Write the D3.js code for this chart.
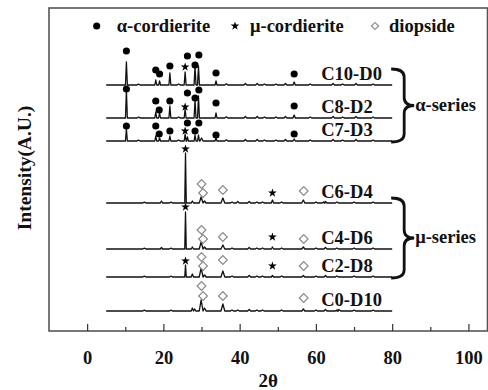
<!DOCTYPE html>
<html>
<head>
<meta charset="utf-8">
<script src="https://cdn.jsdelivr.net/npm/d3@7"></script>
<style>
  body { margin: 0; background: #fff; }
  text { font-family: "Liberation Serif", "Times New Roman", serif; font-weight: bold; fill: #111; }
</style>
</head>
<body>
<svg id="chart" width="488" height="390"></svg>
<script>
// sample names, top to bottom, with the vertical offset of each baseline (a.u.)
const samples = ['C10-D0', 'C8-D2', 'C7-D3', 'C6-D4', 'C4-D6', 'C2-D8', 'C0-D10'];
const offsets = [246, 213, 190, 128, 82, 54, 20];

// peaks: [2theta, height, half width]
const peaksC10D0 = [[10.3,23,.25],[18.0,5,.25],[19.0,4,.25],[21.7,12,.25],[25.7,13,.25],[28.3,19,.25],[29.2,19,.25],[33.8,4,.25],[54.3,3,.3]];
const peaksC8D2  = [[10.3,28,.25],[18.0,6,.25],[19.0,5,.25],[21.7,12,.25],[25.7,9,.25],[28.3,18,.25],[29.2,22,.25],[33.8,5,.25],[54.3,3,.3]];
const peaksC7D3  = [[10.3,12,.25],[18.0,5,.25],[19.0,3,.25],[21.7,5,.25],[25.7,7,.25],[26.3,4,.25],[28.3,6,.25],[29.2,6,.25],[30.0,3,.4],[33.8,3,.25],[54.3,2,.3]];
const peaksC6D4  = [[19.5,2,.3],[25.8,50,.2],[27.6,2,.3],[29.9,6,.5],[30.8,2,.4],[35.6,5,.5],[39.5,1.5,.4],[48.6,3,.3],[56.7,3,.4],[62,1,.4]];
const peaksC4D6  = [[19.5,1.5,.3],[25.8,37,.2],[27.6,2,.3],[29.9,7,.5],[30.8,2,.4],[35.6,4,.5],[48.6,2,.3],[56.7,2,.4]];
const peaksC2D8  = [[25.8,12,.2],[27.6,3,.3],[29.9,9,.5],[30.8,2,.4],[35.6,6,.5],[48.6,1.5,.3],[56.7,1.5,.4]];
const peaksC0D10 = [[27.6,3,.3],[28.2,2,.3],[29.9,11,.5],[30.8,3,.4],[35.6,7,.5],[39.5,1,.4],[56.7,2,.4],[66,1.5,.5]];

// small background bumps
const bumpsAlpha = [[13.5,.8,.4],[24,1,.4],[36.5,1.2,.4],[41.5,1.5,.4],[44.6,1.5,.4],[46.5,1,.4],[49.5,1,.4],[52,1.5,.4],[58.5,1,.4],[64.5,1.5,.4],[67,1,.4],[70.5,1.5,.4],[75,1,.4]];
const bumpsMu = [[15,.8,.4],[22,.8,.4],[38,1,.4],[42.5,1.5,.4],[44.5,1,.4],[46,1,.4],[51,1,.4],[60,1,.4],[62.5,1.5,.4],[65.5,1,.4],[70,1,.4],[75,1,.4]];

// phase markers: [2theta, height above baseline, phase]
const marksC10D0 = [[10.3,34,'a'],[18.0,15,'a'],[19.0,11,'a'],[21.7,19,'a'],[25.7,18,'m'],[26.3,29,'a'],[28.3,20,'a'],[29.3,30,'a'],[33.8,12,'a'],[54.3,11,'a']];
const marksC8D2  = [[10.3,29,'a'],[18.0,17,'a'],[18.9,8,'a'],[21.7,17,'a'],[25.7,11,'m'],[26.3,25,'a'],[28.3,20,'a'],[29.3,28,'a'],[33.8,15,'a'],[54.3,12,'a']];
const marksC7D3  = [[10.3,15,'a'],[18.0,15,'a'],[18.9,7,'a'],[21.7,10,'a'],[25.7,10,'m'],[26.3,18,'a'],[28.3,10,'a'],[29.3,18,'a'],[33.8,6,'a'],[54.3,7,'a']];
const marksC6D4  = [[25.8,54,'m'],[30.0,19,'d'],[30.4,10,'d'],[35.6,13,'d'],[48.6,10,'m'],[56.8,12,'d']];
const marksC4D6  = [[25.8,42,'m'],[30.0,19,'d'],[30.4,10,'d'],[35.6,12,'d'],[48.6,12,'m'],[56.8,10,'d']];
const marksC2D8  = [[25.8,16,'m'],[30.0,20,'d'],[30.4,11,'d'],[35.6,17,'d'],[48.6,11,'m'],[56.8,11,'d']];
const marksC0D10 = [[30.0,25,'d'],[30.4,15,'d'],[35.6,15,'d'],[56.8,13,'d']];

const xTicks = [0, 20, 40, 60, 80, 100];
const xMinor = [10, 30, 50, 70, 90];
const legendItems = [['a', 'α-cordierite'], ['m', 'μ-cordierite'], ['d', 'diopside']];

const peakSets = [peaksC10D0, peaksC8D2, peaksC7D3, peaksC6D4, peaksC4D6, peaksC2D8, peaksC0D10];
const markSets = [marksC10D0, marksC8D2, marksC7D3, marksC6D4, marksC4D6, marksC2D8, marksC0D10];

const svg = d3.select('#chart');
const frame = { left: 49, top: 8, right: 487.5, bottom: 331 };

const x = d3.scaleLinear().domain([-10, 105]).range([frame.left, frame.right]);
const y = d3.scaleLinear().domain([0, 323]).range([frame.bottom, frame.top]);

// turn peak list into a polyline (baseline - apex - baseline)
function tracePoints(peaks) {
  const pts = [[5, 0]];
  peaks.slice().sort((a, b) => a[0] - b[0]).forEach(p => {
    pts.push([p[0] - p[2], 0], [p[0], p[1]], [p[0] + p[2], 0]);
  });
  pts.push([80, 0]);
  return pts;
}

const symbolFor = {
  a: d3.symbol().type(d3.symbolCircle).size(40),
  m: d3.symbol().type(d3.symbolStar).size(24),
  d: d3.symbol().type(d3.symbolSquare).size(38)
};

function drawMark(g, kind, px, py, scale) {
  const s = scale || 1;
  const p = g.append('path')
    .attr('d', symbolFor[kind]())
    .attr('transform', 'translate(' + px + ',' + py + ')' + (kind === 'd' ? ' rotate(45)' : '') + ' scale(' + s + ')');
  if (kind === 'd') {
    p.attr('fill', '#fff').attr('stroke', '#8a8a8a').attr('stroke-width', 1.2 / s);
  } else {
    p.attr('fill', '#000');
  }
}

/* traces */
const line = d3.line().x(d => x(d[0])).y(d => y(d[1]));
const plot = svg.append('g');

samples.forEach((name, i) => {
  const off = offsets[i];
  const bumps = i < 3 ? bumpsAlpha : bumpsMu;
  const pts = tracePoints(peakSets[i].concat(bumps)).map(p => [p[0], p[1] + off]);
  plot.append('path')
    .attr('d', line(pts))
    .attr('fill', 'none')
    .attr('stroke', '#111')
    .attr('stroke-width', 1.3)
    .attr('stroke-linejoin', 'round');

  markSets[i].forEach(m => drawMark(plot, m[2], x(m[0]), y(off + m[1])));

  plot.append('text')
    .attr('x', x(61.4))
    .attr('y', y(off + 5))
    .attr('font-size', 18.5)
    .text(name);
});

/* braces */
function bracePath(x0, xb, xt, y0, y1) {
  const ym = (y0 + y1) / 2;
  const r = 8;
  return 'M' + x0 + ',' + y0 +
    ' Q' + xb + ',' + y0 + ' ' + xb + ',' + (y0 + r) +
    ' L' + xb + ',' + (ym - r) +
    ' Q' + xb + ',' + ym + ' ' + xt + ',' + ym +
    ' Q' + xb + ',' + ym + ' ' + xb + ',' + (ym + r) +
    ' L' + xb + ',' + (y1 - r) +
    ' Q' + xb + ',' + y1 + ' ' + x0 + ',' + y1;
}
const braces = [
  { top: offsets[0] + 16, bottom: offsets[2] - 1, label: 'α-series' },
  { top: offsets[3] + 5, bottom: offsets[5] - 1, label: 'μ-series' }
];
braces.forEach(b => {
  const y0 = y(b.top), y1 = y(b.bottom);
  const xb = x(80) + 12, xt = xb + 10;
  svg.append('path')
    .attr('d', bracePath(x(80) - 1, xb, xt, y0, y1))
    .attr('fill', 'none')
    .attr('stroke', '#111')
    .attr('stroke-width', 2.8);
  svg.append('text')
    .attr('x', xt + 1)
    .attr('y', (y0 + y1) / 2 + 5)
    .attr('font-size', 18.5)
    .text(b.label);
});

/* legend */
const legX = [96.7, 235, 375];
const legGap = { a: 20, m: 15, d: 14 };
const legend = svg.append('g');
legendItems.forEach((it, i) => {
  drawMark(legend, it[0], legX[i], 26, it[0] === 'd' ? 0.8 : 1);
  legend.append('text')
    .attr('x', legX[i] + legGap[it[0]])
    .attr('y', 32)
    .attr('font-size', 18.5)
    .text(it[1]);
});

/* frame and x axis */
svg.append('rect')
  .attr('x', frame.left).attr('y', frame.top)
  .attr('width', frame.right - frame.left).attr('height', frame.bottom - frame.top)
  .attr('fill', 'none').attr('stroke', '#555').attr('stroke-width', 1.6);

const axis = svg.append('g').attr('transform', 'translate(0,' + frame.bottom + ')');
axis.call(d3.axisBottom(x).tickValues(xTicks).tickSize(-7).tickPadding(20).tickFormat(d3.format('d')));
axis.select('.domain').remove();
axis.selectAll('.tick line').attr('stroke', '#333').attr('stroke-width', 1.2);
axis.selectAll('.tick text').attr('font-size', 18.5).attr('fill', '#111')
  .attr('font-family', '"Liberation Serif", serif').attr('font-weight', 'bold');

const minor = svg.append('g').attr('transform', 'translate(0,' + frame.bottom + ')');
minor.call(d3.axisBottom(x).tickValues(xMinor).tickSize(-4).tickFormat(''));
minor.select('.domain').remove();
minor.selectAll('.tick line').attr('stroke', '#333').attr('stroke-width', 1.2);

svg.append('text')
  .attr('x', x(47.5)).attr('y', 387)
  .attr('text-anchor', 'middle')
  .attr('font-size', 19)
  .text('2θ');

svg.append('text')
  .attr('transform', 'translate(31,168) rotate(-90)')
  .attr('text-anchor', 'middle')
  .attr('font-size', 19.5)
  .text('Intensity(A.U.)');
</script>
</body>
</html>
